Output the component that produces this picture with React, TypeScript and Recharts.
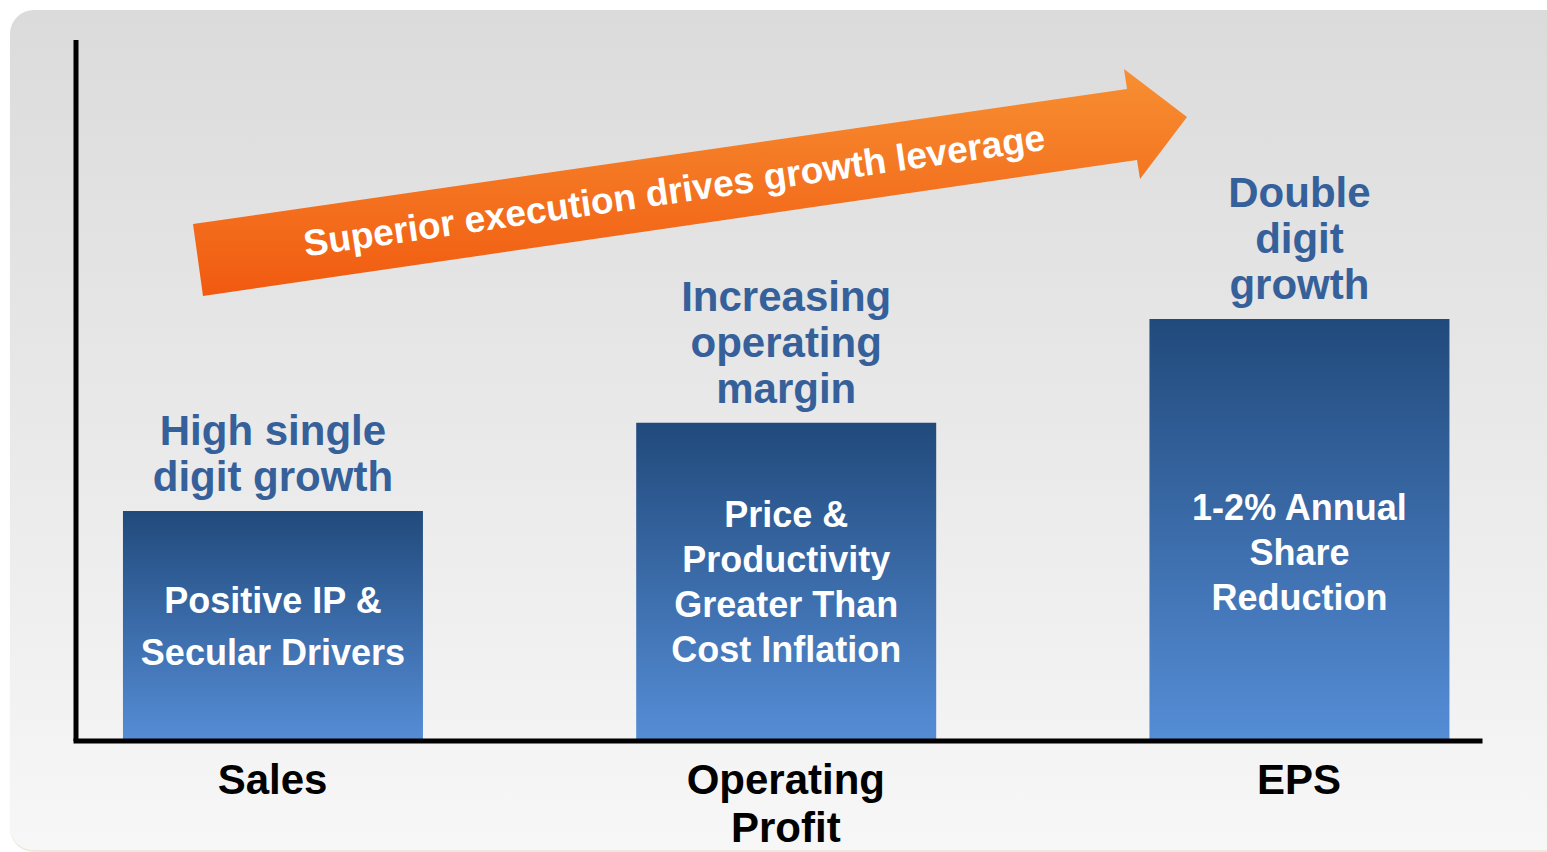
import React from 'react';
import { BarChart, Bar, XAxis, YAxis, LabelList } from 'recharts';

// categories and values (bar heights, 0-100 scale)
const categories = ['Sales', 'Operating Profit', 'EPS'];
const heights = [32.8, 45.4, 60.2];
const topNotes = [
  ['High single', 'digit growth'],
  ['Increasing', 'operating', 'margin'],
  ['Double', 'digit', 'growth'],
];
const innerNotes = [
  ['Positive IP &', 'Secular Drivers'],
  ['Price &', 'Productivity', 'Greater Than', 'Cost Inflation'],
  ['', '1-2% Annual', 'Share', 'Reduction'],
];
const axisLabels = [['Sales'], ['Operating', 'Profit'], ['EPS']];
const arrowText = 'Superior execution drives growth leverage';

const data = categories.map((name, i) => ({ name, pos: i + 1, value: heights[i] }));

const FONT = '"Liberation Sans", Arial, sans-serif';
const BLUE = '#35609a';

const TopNote = (props: any) => {
  const { x, y, width, index } = props;
  const lines = topNotes[index] ?? [];
  const cx = x + width / 2;
  const lh = 46;
  const last = y - 20;
  return (
    <text x={cx} textAnchor="middle" fill={BLUE} fontFamily={FONT} fontWeight="bold" fontSize={42}>
      {lines.map((l: string, k: number) => (
        <tspan key={k} x={cx} y={last - (lines.length - 1 - k) * lh}>{l}</tspan>
      ))}
    </text>
  );
};

const InnerNote = (props: any) => {
  const { x, y, width, height, index } = props;
  const lines = innerNotes[index] ?? [];
  const cx = x + width / 2;
  const lh = index === 0 ? 52 : 45;
  const mid = y + height / 2;
  const first = mid - ((lines.length - 1) * lh) / 2 + 13;
  return (
    <text x={cx} textAnchor="middle" fill="#ffffff" fontFamily={FONT} fontWeight="bold" fontSize={36}>
      {lines.map((l: string, k: number) => (
        <tspan key={k} x={cx} y={first + k * lh}>{l}</tspan>
      ))}
    </text>
  );
};

const AxisTick = (props: any) => {
  const { x, payload } = props;
  const lines = axisLabels[(payload?.value ?? 1) - 1] ?? [];
  return (
    <text x={x} textAnchor="middle" fill="#000" fontFamily={FONT} fontWeight="bold" fontSize={42}>
      {lines.map((l: string, k: number) => (
        <tspan key={k} x={x} y={794 + k * 48}>{l}</tspan>
      ))}
    </text>
  );
};

export default function App() {
  return (
    <div style={{ position: 'fixed', left: 0, top: 0, width: 1547, height: 852, background: '#fff', overflow: 'hidden' }}>
      <div style={{ position: 'absolute', left: 10, top: 10, width: 1560, height: 840, borderRadius: 24,
        background: 'linear-gradient(#dbdbdb, #f7f7f7)', boxShadow: '0 2px 1px #ece9dc' }} />
      <div style={{ position: 'absolute', left: 0, top: 0 }}>
        <BarChart width={1547} height={852} data={data} margin={{ top: 40, right: 67, left: 74, bottom: 11 }}>
          <defs>
            <linearGradient id="barFill" x1="0" y1="0" x2="0" y2="1">
              <stop offset="0%" stopColor="#214a7c" />
              <stop offset="100%" stopColor="#558dd6" />
            </linearGradient>
          </defs>
          <XAxis type="number" dataKey="pos" domain={[0.617, 3.3525]} ticks={[1, 2, 3]} allowDataOverflow
            height={100} tickLine={false} tick={<AxisTick />}
            axisLine={{ stroke: '#000', strokeWidth: 5, strokeLinecap: 'square' }} />
          <YAxis type="number" domain={[0, 100]} width={2} tick={false} tickLine={false}
            axisLine={{ stroke: '#000', strokeWidth: 5 }} />
          <Bar dataKey="value" barSize={300} fill="url(#barFill)" isAnimationActive={false}>
            <LabelList dataKey="value" content={<TopNote />} />
            <LabelList dataKey="value" content={<InnerNote />} />
          </Bar>
        </BarChart>
      </div>
      <svg width={1547} height={852} style={{ position: 'absolute', left: 0, top: 0, pointerEvents: 'none' }}>
        <defs>
          <linearGradient id="arrowFill" x1="0" y1="0" x2="0" y2="1">
            <stop offset="0%" stopColor="#f78f32" />
            <stop offset="100%" stopColor="#f15a10" />
          </linearGradient>
        </defs>
        <polygon points="193,224 1127,89 1124,69 1187,117 1140,179 1137,160 203,296" fill="url(#arrowFill)" />
        <text x={676} y={203} textAnchor="middle" fill="#fff" fontFamily={FONT} fontWeight="bold" fontSize={37}
          transform="rotate(-8.2 676 203)">{arrowText}</text>
      </svg>
    </div>
  );
}
